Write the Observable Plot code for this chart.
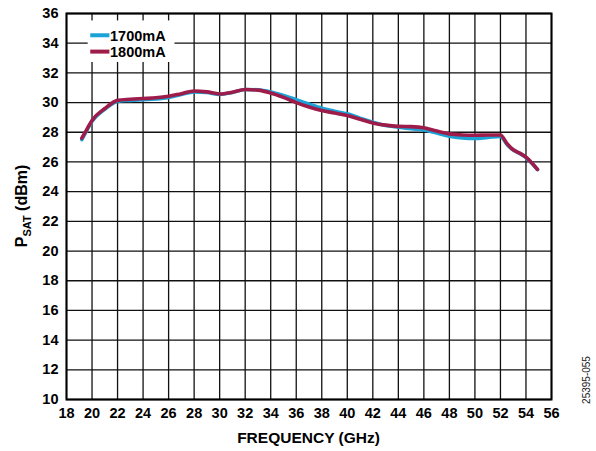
<!DOCTYPE html>
<html>
<head>
<meta charset="utf-8">
<script src="https://cdn.jsdelivr.net/npm/d3@7"></script>
<script src="https://cdn.jsdelivr.net/npm/@observablehq/plot@0.6"></script>
<style>
  html, body { margin: 0; padding: 0; background: #fff; }
  svg text { font-family: "Liberation Sans", Arial, sans-serif; }
</style>
</head>
<body>
<div id="chart"></div>
<script>
const freq = [19.2, 19.6, 20, 21, 22, 23, 24, 25, 26, 27, 28, 29, 30, 31, 32, 33, 34, 35, 36, 37, 38, 39, 40, 41, 42, 43, 44, 45, 46, 47, 48, 49, 50, 51, 52, 52.5, 53, 53.5, 54, 54.5, 54.9];
const psat1800 = [27.6, 28.2, 28.8, 29.6, 30.15, 30.22, 30.27, 30.32, 30.42, 30.6, 30.78, 30.72, 30.58, 30.7, 30.88, 30.84, 30.65, 30.35, 30.0, 29.7, 29.46, 29.3, 29.13, 28.88, 28.63, 28.48, 28.4, 28.38, 28.3, 28.08, 27.89, 27.82, 27.8, 27.82, 27.82, 27.25, 26.82, 26.6, 26.32, 25.9, 25.5];
const psat1700 = [27.5, 28.15, 28.75, 29.55, 30.08, 30.15, 30.2, 30.25, 30.35, 30.55, 30.72, 30.68, 30.55, 30.68, 30.88, 30.86, 30.72, 30.48, 30.2, 29.9, 29.62, 29.42, 29.24, 28.95, 28.67, 28.45, 28.34, 28.24, 28.16, 27.95, 27.73, 27.62, 27.58, 27.65, 27.72, 27.2, 26.8, 26.58, 26.3, 25.88, 25.48];
const seriesNames = ["1700mA", "1800mA"];
const seriesColors = ["#1ba3d8", "#9e1c4a"];
const xTicks = d3.range(18, 57, 2);
const yTicks = d3.range(10, 37, 2);

const rows = [];
freq.forEach((f, i) => {
  rows.push({f, v: psat1700[i], s: seriesNames[0]});
  rows.push({f, v: psat1800[i], s: seriesNames[1]});
});

const plot = Plot.plot({
  width: 596,
  height: 451,
  marginLeft: 66,
  marginRight: 45,
  marginTop: 13,
  marginBottom: 52,
  style: {fontFamily: "Liberation Sans, Arial, sans-serif", background: "#fff"},
  x: {domain: [18, 56], ticks: xTicks},
  y: {domain: [10, 36], ticks: yTicks},
  color: {domain: seriesNames, range: seriesColors},
  marks: [
    Plot.gridX(xTicks, {stroke: "#111", strokeOpacity: 1, strokeWidth: 1.3}),
    Plot.gridY(yTicks, {stroke: "#111", strokeOpacity: 1, strokeWidth: 1.3}),
    Plot.axisX({ticks: xTicks, tickSize: 0, tickPadding: 8, label: null, fontSize: 14.5, fontWeight: "bold", tickFormat: d => String(d)}),
    Plot.axisY({ticks: yTicks, tickSize: 0, tickPadding: 8, label: null, fontSize: 14.5, fontWeight: "bold", tickFormat: d => String(d)}),
    Plot.line(rows.filter(d => d.s === seriesNames[0]), {x: "f", y: "v", stroke: "s", strokeWidth: 3.6, curve: "monotone-x"}),
    Plot.line(rows.filter(d => d.s === seriesNames[1]), {x: "f", y: "v", stroke: "s", strokeWidth: 3.6, curve: "monotone-x"}),
    Plot.frame({stroke: "#000", strokeWidth: 2})
  ]
});

document.getElementById("chart").appendChild(plot);

const svg = d3.select(plot);
const xs = plot.scale("x");
const ys = plot.scale("y");
const X = v => xs.apply(v);
const Y = v => ys.apply(v);

// Legend
const lg = svg.append("g");
lg.append("rect")
  .attr("x", X(19.7)).attr("y", Y(35.5))
  .attr("width", X(26.5) - X(19.7)).attr("height", Y(32.7) - Y(35.5))
  .attr("fill", "#fff");
seriesNames.forEach((name, i) => {
  const yy = Y(34.5 - i * 1.1);
  lg.append("line")
    .attr("x1", X(19.9)).attr("x2", X(21.4))
    .attr("y1", yy).attr("y2", yy)
    .attr("stroke", seriesColors[i]).attr("stroke-width", 4);
  lg.append("text")
    .attr("x", X(21.45)).attr("y", yy + 5.3)
    .attr("text-anchor", "start")
    .attr("font-size", 14.5).attr("font-weight", "bold").attr("fill", "#000")
    .text(name);
});

// X axis title
svg.append("text")
  .attr("x", (X(18) + X(56)) / 2).attr("y", 443)
  .attr("text-anchor", "middle").attr("font-size", 15.5).attr("font-weight", "bold")
  .text("FREQUENCY (GHz)");

// Y axis title with subscript
const yt = svg.append("text")
  .attr("transform", `translate(27,${(Y(10) + Y(36)) / 2}) rotate(-90)`)
  .attr("text-anchor", "middle").attr("font-size", 16).attr("font-weight", "bold");
yt.append("tspan").text("P");
yt.append("tspan").attr("font-size", 11).attr("dy", 4).text("SAT");
yt.append("tspan").attr("dy", -4).text(" (dBm)");

// Figure code
svg.append("text")
  .attr("transform", "translate(590,380) rotate(-90)")
  .attr("text-anchor", "middle").attr("font-size", 10).attr("fill", "#222")
  .text("25395-055");
</script>
</body>
</html>
